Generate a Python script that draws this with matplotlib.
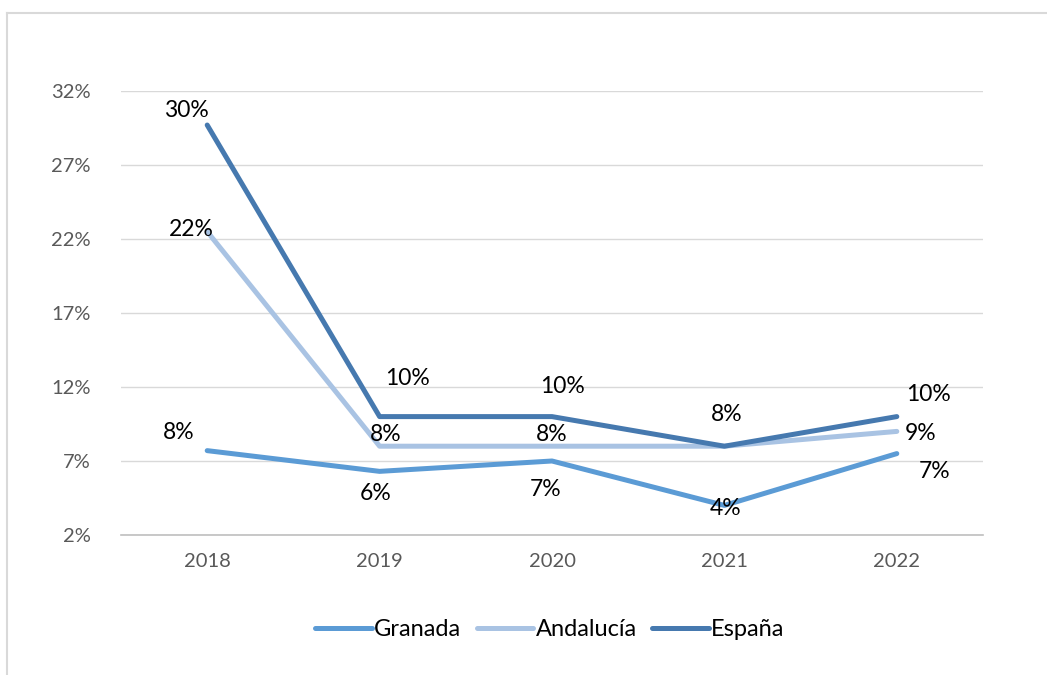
import matplotlib
matplotlib.use("Agg")
import matplotlib.pyplot as plt
from matplotlib.lines import Line2D

plt.rcParams['font.family'] = ['Lato', 'DejaVu Sans']

years = ["2018", "2019", "2020", "2021", "2022"]
granada = [7.7, 6.3, 7.0, 4.0, 7.5]
andalucia = [22.5, 8.0, 8.0, 8.0, 9.0]
espana = [29.7, 10.0, 10.0, 8.0, 10.0]
granada_lbl = ["8%", "6%", "7%", "4%", "7%"]
andalucia_lbl = ["22%", "8%", "8%", None, "9%"]
espana_lbl = ["30%", "10%", "10%", "8%", "10%"]
yticks = [2, 7, 12, 17, 22, 27, 32]

c_gra = "#5B9BD5"
c_and = "#A9C3E3"
c_esp = "#4679AF"

fig = plt.figure(figsize=(10.47, 6.75), dpi=100)
ax = fig.add_axes([121/1047, 1-535/675, (983-121)/1047, (535-91)/675])

x = list(range(len(years)))
ax.plot(x, granada, color=c_gra, lw=3.6, solid_capstyle='round', zorder=3)
ax.plot(x, andalucia, color=c_and, lw=3.6, solid_capstyle='round', zorder=3)
ax.plot(x, espana, color=c_esp, lw=3.6, solid_capstyle='round', zorder=4)

ax.set_xlim(-0.5, 4.5)
ax.set_ylim(2, 32)
ax.set_yticks(yticks)
ax.set_yticklabels([f"{v}%" for v in yticks])
ax.set_xticks(x)
ax.set_xticklabels(years)
ax.tick_params(axis='both', length=0, labelsize=14.5, labelcolor="#595959")
ax.tick_params(axis='x', pad=13)
ax.tick_params(axis='y', pad=22)
ax.grid(axis='y', color="#D9D9D9", lw=1)
ax.set_axisbelow(True)
for s in ['top', 'right', 'left']:
    ax.spines[s].set_visible(False)
ax.spines['bottom'].set_color("#BFBFBF")
ax.spines['bottom'].set_linewidth(1.2)

off_gra = [(-29, 18), (-4, -22), (-6, -28), (1, -3), (38, -18)]
off_and = [(-16, 2), (6, 12), (0, 12), None, (24, -2)]
off_esp = [(-21, 15), (28, 38), (10, 30), (2, 32), (32, 22)]

def label(vals, lbls, offs):
    for i, (v, l, o) in enumerate(zip(vals, lbls, offs)):
        if l is None:
            continue
        ax.annotate(l, (i, v), xytext=o, textcoords='offset pixels',
                    ha='center', va='center', fontsize=16.5, color='black', zorder=6)

label(granada, granada_lbl, off_gra)
label(andalucia, andalucia_lbl, off_and)
label(espana, espana_lbl, off_esp)

handles = [Line2D([], [], color=c_gra, lw=3.6, solid_capstyle='round'),
           Line2D([], [], color=c_and, lw=3.6, solid_capstyle='round'),
           Line2D([], [], color=c_esp, lw=3.6, solid_capstyle='round')]
fig.legend(handles, ["Granada", "Andalucía", "España"], loc='center',
           bbox_to_anchor=(550/1047, 1-630/675), ncol=3, frameon=False,
           fontsize=17, handlelength=2.4, handletextpad=0.1, columnspacing=0.65)

fig.add_artist(Line2D([7/1047, 7/1047], [0, 1-13/675], transform=fig.transFigure, color="#D9D9D9", lw=1.5))
fig.add_artist(Line2D([7/1047, 1], [1-13/675, 1-13/675], transform=fig.transFigure, color="#D9D9D9", lw=1.5))

fig.savefig("out.png", dpi=100)
